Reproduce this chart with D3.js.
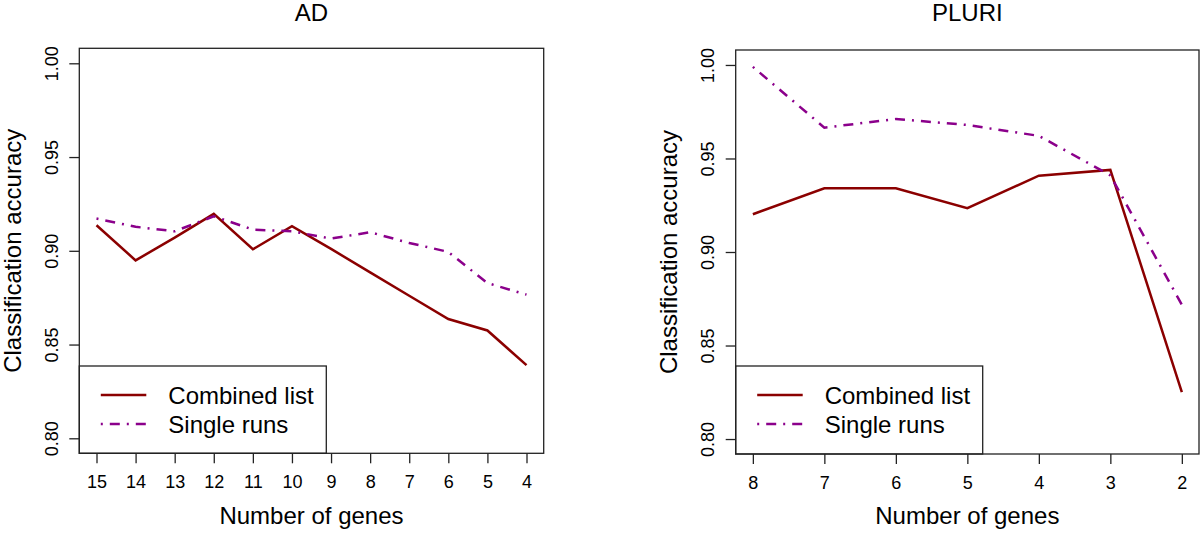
<!DOCTYPE html>
<html>
<head>
<meta charset="utf-8">
<script src="https://cdn.jsdelivr.net/npm/d3@7"></script>
<style>
body { margin:0; background:#fff; }
svg { font-family:"Liberation Sans", Arial, sans-serif; }
.tick text { font-size:18px; fill:#000; }
.title, .label, .legtext { font-size:24px; fill:#000; }
</style>
</head>
<body>
<svg id="chart"></svg>
<script>
// values
var genesAD = [15,14,13,12,11,10,9,8,7,6,5,4];
var combinedAD = [0.9136,0.8949,0.907,0.9197,0.9008,0.9131,0.901,0.8885,0.876,0.8636,0.8575,0.8390];
var singleAD = [0.9172,0.9128,0.9104,0.9184,0.9113,0.9104,0.9065,0.9099,0.9042,0.8994,0.8828,0.8766];

var genesPLURI = [8,7,6,5,4,3,2];
var combinedPLURI = [0.9202,0.9341,0.9341,0.9234,0.9408,0.9439,0.8251];
var singlePLURI = [0.999,0.9665,0.9711,0.9679,0.9621,0.941,0.8718];

var yTicks = [0.80,0.85,0.90,0.95,1.00];
var seriesNames = ["Combined list","Single runs"];

var colors = {combined:"#8b0000", single:"#8b008b"};
var dash = "2,7,10,7";

var svg = d3.select("#chart")
    .attr("width",1200)
    .attr("height",534);

//panel holds the box in pixels, genes/combined/single the data
var drawPanel = function(panel)
{
    var pad = (panel.genes[0]-panel.genes[panel.genes.length-1])*0.04;
    var xScale = d3.scaleLinear()
        .domain([panel.genes[0]+pad, panel.genes[panel.genes.length-1]-pad])
        .range([panel.left,panel.right]);
    var yScale = d3.scaleLinear()
        .domain([0.792,1.008])
        .range([panel.bottom,panel.top]);

    var g = svg.append("g");

    var lineGenerator = function(vals)
    {
        return d3.line()
            .x(function(d,i){ return xScale(panel.genes[i]); })
            .y(function(d){ return yScale(d); })(vals);
    }

    g.append("path")
        .attr("d",lineGenerator(panel.combined))
        .attr("fill","none")
        .attr("stroke",colors.combined)
        .attr("stroke-width",2.5);

    g.append("path")
        .attr("d",lineGenerator(panel.single))
        .attr("fill","none")
        .attr("stroke",colors.single)
        .attr("stroke-width",2.5)
        .attr("stroke-dasharray",dash);

    //x axis
    var xAxis = d3.axisBottom(xScale)
        .tickValues(panel.genes)
        .tickSize(10)
        .tickSizeOuter(0)
        .tickPadding(12)
        .tickFormat(d3.format("d"));
    var xg = g.append("g")
        .attr("transform","translate(0,"+panel.bottom+")")
        .call(xAxis);
    xg.select(".domain").remove();
    xg.selectAll(".tick line").attr("stroke","#222").attr("stroke-width",1.3);
    xg.selectAll(".tick text").attr("font-size",null).attr("font-family",null);

    //y axis
    var yAxis = d3.axisLeft(yScale)
        .tickValues(yTicks)
        .tickSize(10)
        .tickSizeOuter(0)
        .tickFormat(d3.format(".2f"));
    var yg = g.append("g")
        .attr("transform","translate("+panel.left+",0)")
        .call(yAxis);
    yg.select(".domain").remove();
    yg.selectAll(".tick line").attr("stroke","#222").attr("stroke-width",1.3);
    yg.selectAll(".tick text")
        .attr("transform","rotate(-90)")
        .attr("x",0)
        .attr("y",-21.5)
        .attr("dy",null)
        .attr("text-anchor","middle");

    //legend, bottom left
    var leg = g.append("g");
    leg.append("rect")
        .attr("x",panel.left)
        .attr("y",366)
        .attr("width",247)
        .attr("height",panel.bottom-366)
        .attr("fill","#fff")
        .attr("stroke","#222")
        .attr("stroke-width",1.3);
    seriesNames.forEach(function(name,i)
    {
        var yy = 395 + i*29;
        leg.append("line")
            .attr("x1",panel.left+21.5)
            .attr("x2",panel.left+67)
            .attr("y1",yy)
            .attr("y2",yy)
            .attr("stroke",i==0 ? colors.combined : colors.single)
            .attr("stroke-width",2.5)
            .attr("stroke-dasharray",i==0 ? null : dash);
        leg.append("text")
            .classed("legtext",true)
            .attr("x",panel.left+89)
            .attr("y",yy+9)
            .text(name);
    });

    //box
    g.append("rect")
        .attr("x",panel.left)
        .attr("y",panel.top)
        .attr("width",panel.right-panel.left)
        .attr("height",panel.bottom-panel.top)
        .attr("fill","none")
        .attr("stroke","#222")
        .attr("stroke-width",1.3);

    //labels
    var cx = (panel.left+panel.right)/2;
    g.append("text")
        .classed("title",true)
        .attr("text-anchor","middle")
        .attr("x",cx)
        .attr("y",21)
        .text(panel.title);
    g.append("text")
        .classed("label",true)
        .attr("text-anchor","middle")
        .attr("x",cx)
        .attr("y",524)
        .text("Number of genes");
    g.append("text")
        .classed("label",true)
        .attr("text-anchor","middle")
        .attr("transform","translate("+(panel.left-58.5)+","+((panel.top+panel.bottom)/2)+") rotate(-90)")
        .text("Classification accuracy");
}

drawPanel({title:"AD", genes:genesAD, combined:combinedAD, single:singleAD,
           left:79.3, right:543.7, top:48.3, bottom:453.3});
drawPanel({title:"PLURI", genes:genesPLURI, combined:combinedPLURI, single:singlePLURI,
           left:735.7, right:1199, top:50, bottom:454});
</script>
</body>
</html>
